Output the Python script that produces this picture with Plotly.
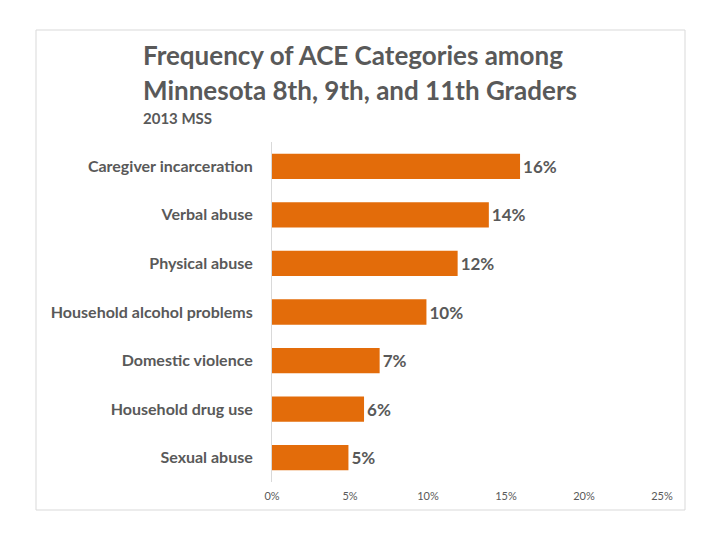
import plotly.graph_objects as go

categories = ["Caregiver incarceration", "Verbal abuse", "Physical abuse",
              "Household alcohol problems", "Domestic violence",
              "Household drug use", "Sexual abuse"]
values = [15.9, 13.9, 11.9, 9.9, 6.9, 5.9, 4.9]
tick_vals = [0, 5, 10, 15, 20, 25]
tick_text = ["0%", "5%", "10%", "15%", "20%", "25%"]

FONT = "Lato"
GRAY = "#595959"

OFF = 8  # page body margin offset
W, H = 720 - OFF, 540 - OFF
L, R, T, B = 272 - OFF, 662 - OFF, 142 - OFF, 482 - OFF

def px(x):
    return (x - OFF - L) / (R - L)

def py(y):
    return (B - (y - OFF)) / (B - T)

fig = go.Figure(go.Bar(
    x=values, y=categories, orientation="h",
    marker=dict(color="#E36C0A", line=dict(width=0)),
    text=values, texttemplate="<b>%{x:.0f}%</b>", textposition="outside",
    textfont=dict(family=FONT, size=17, color=GRAY),
    cliponaxis=False,
))

fig.update_layout(
    width=W, height=H,
    margin=dict(l=L, r=W - R, t=T, b=H - B),
    paper_bgcolor="white", plot_bgcolor="white",
    bargap=0.48,
    showlegend=False,
    xaxis=dict(range=[0, 25], tickvals=tick_vals, ticktext=tick_text,
               showgrid=False, zeroline=False, showline=False,
               tickfont=dict(family=FONT, size=11, color=GRAY),
               ticklabelstandoff=6, fixedrange=True),
    yaxis=dict(autorange="reversed", showgrid=False, zeroline=False,
               showline=True, linecolor="#D9D9D9", linewidth=1,
               ticks="", ticklabelstandoff=15,
               tickfont=dict(family=FONT, size=16, color=GRAY, weight="bold")),
    shapes=[dict(type="rect", xref="paper", yref="paper",
                 x0=px(36), x1=px(685), y0=py(510), y1=py(30),
                 line=dict(color="#D9D9D9", width=1), layer="below")],
    annotations=[
        dict(text="Frequency of ACE Categories among", xref="paper", yref="paper",
             x=px(141), y=py(55), xanchor="left", yanchor="middle", showarrow=False,
             font=dict(family=FONT, size=26, color=GRAY, weight="bold")),
        dict(text="Minnesota 8th, 9th, and 11th Graders", xref="paper", yref="paper",
             x=px(141), y=py(90), xanchor="left", yanchor="middle", showarrow=False,
             font=dict(family=FONT, size=26, color=GRAY, weight="bold")),
        dict(text="2013 MSS", xref="paper", yref="paper",
             x=px(141), y=py(118), xanchor="left", yanchor="middle", showarrow=False,
             font=dict(family=FONT, size=15, color=GRAY, weight="bold")),
    ],
)

fig.write_html("out.html")
